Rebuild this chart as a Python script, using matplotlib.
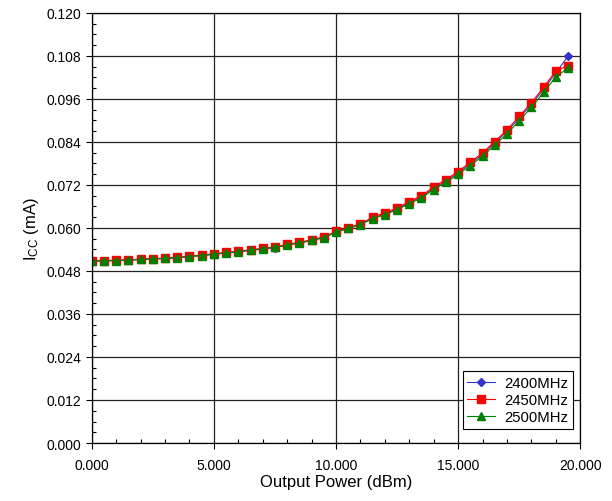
import matplotlib
matplotlib.use("Agg")
import matplotlib.pyplot as plt
from matplotlib.ticker import MultipleLocator, FormatStrFormatter

plt.rcParams['font.family'] = ['Liberation Sans', 'DejaVu Sans']
plt.rcParams['mathtext.default'] = 'regular'

# output power steps (dBm)
pout = [0.0, 0.5, 1.0, 1.5, 2.0, 2.5, 3.0, 3.5, 4.0, 4.5,
        5.0, 5.5, 6.0, 6.5, 7.0, 7.5, 8.0, 8.5, 9.0, 9.5,
        10.0, 10.5, 11.0, 11.5, 12.0, 12.5, 13.0, 13.5, 14.0, 14.5,
        15.0, 15.5, 16.0, 16.5, 17.0, 17.5, 18.0, 18.5, 19.0, 19.5]

# supply current (mA) per frequency
icc_2400 = [0.0508, 0.0508, 0.0509, 0.0510, 0.0512, 0.0513, 0.0515, 0.0517, 0.0520, 0.0523,
            0.0526, 0.0530, 0.0533, 0.0537, 0.0541, 0.0545, 0.0552, 0.0558, 0.0565, 0.0573,
            0.0588, 0.0599, 0.0609, 0.0627, 0.0639, 0.0653, 0.0670, 0.0687, 0.0710, 0.0731,
            0.0753, 0.0779, 0.0805, 0.0837, 0.0869, 0.0906, 0.0944, 0.0987, 0.1032, 0.1079]
icc_2450 = [0.0509, 0.0509, 0.0510, 0.0511, 0.0513, 0.0514, 0.0516, 0.0518, 0.0521, 0.0524,
            0.0528, 0.0532, 0.0535, 0.0539, 0.0543, 0.0547, 0.0554, 0.0560, 0.0567, 0.0575,
            0.0590, 0.0601, 0.0611, 0.0630, 0.0642, 0.0656, 0.0673, 0.0690, 0.0714, 0.0735,
            0.0757, 0.0783, 0.0809, 0.0841, 0.0873, 0.0911, 0.0949, 0.0992, 0.1038, 0.1053]
icc_2500 = [0.0508, 0.0508, 0.0509, 0.0510, 0.0512, 0.0513, 0.0515, 0.0517, 0.0520, 0.0523,
            0.0527, 0.0530, 0.0534, 0.0538, 0.0542, 0.0546, 0.0552, 0.0558, 0.0565, 0.0573,
            0.0588, 0.0599, 0.0609, 0.0626, 0.0637, 0.0651, 0.0667, 0.0684, 0.0707, 0.0727,
            0.0749, 0.0774, 0.0800, 0.0831, 0.0862, 0.0899, 0.0936, 0.0978, 0.1021, 0.1046]

fig = plt.figure(figsize=(6.12, 5.02), dpi=100)
ax = fig.add_axes([0.150, 0.1155, 0.798, 0.857])

ax.plot(pout, icc_2400, color='#3333cc', marker='D', markersize=4, lw=0.8, label='2400MHz')
ax.plot(pout, icc_2450, color='red', marker='s', markersize=6, lw=0.8, label='2450MHz')
ax.plot(pout, icc_2500, color='green', marker='^', markersize=6, lw=0.8, label='2500MHz')

ax.set_xlim(0, 20)
ax.set_ylim(0, 0.120)
ax.xaxis.set_major_locator(MultipleLocator(5))
ax.xaxis.set_minor_locator(MultipleLocator(1))
ax.yaxis.set_major_locator(MultipleLocator(0.012))
ax.yaxis.set_minor_locator(MultipleLocator(0.003))
ax.xaxis.set_major_formatter(FormatStrFormatter('%.3f'))
ax.yaxis.set_major_formatter(FormatStrFormatter('%.3f'))
ax.tick_params(which='major', direction='out', length=4, width=0.8, labelsize=10)
ax.tick_params(which='minor', direction='in', length=3, width=0.8)
ax.xaxis.set_tick_params(pad=7)

ax.grid(True, which='major', color='#222222', lw=0.9)
ax.set_axisbelow(True)
for s in ax.spines.values():
    s.set_linewidth(0.9)

ax.set_xlabel('Output Power (dBm)', fontsize=12, labelpad=1)
ax.set_ylabel(r'I$_{CC}$ (mA)', fontsize=12)

leg = ax.legend(loc='lower right', fontsize=10.7, fancybox=False, edgecolor='black',
                framealpha=1, handlelength=1.9, handletextpad=0.6, borderpad=0.3,
                labelspacing=0.22, borderaxespad=0, markerscale=0.9,
                bbox_to_anchor=(0.985, 0.033))
leg.get_frame().set_linewidth(0.8)

fig.savefig('out.png', dpi=100)
